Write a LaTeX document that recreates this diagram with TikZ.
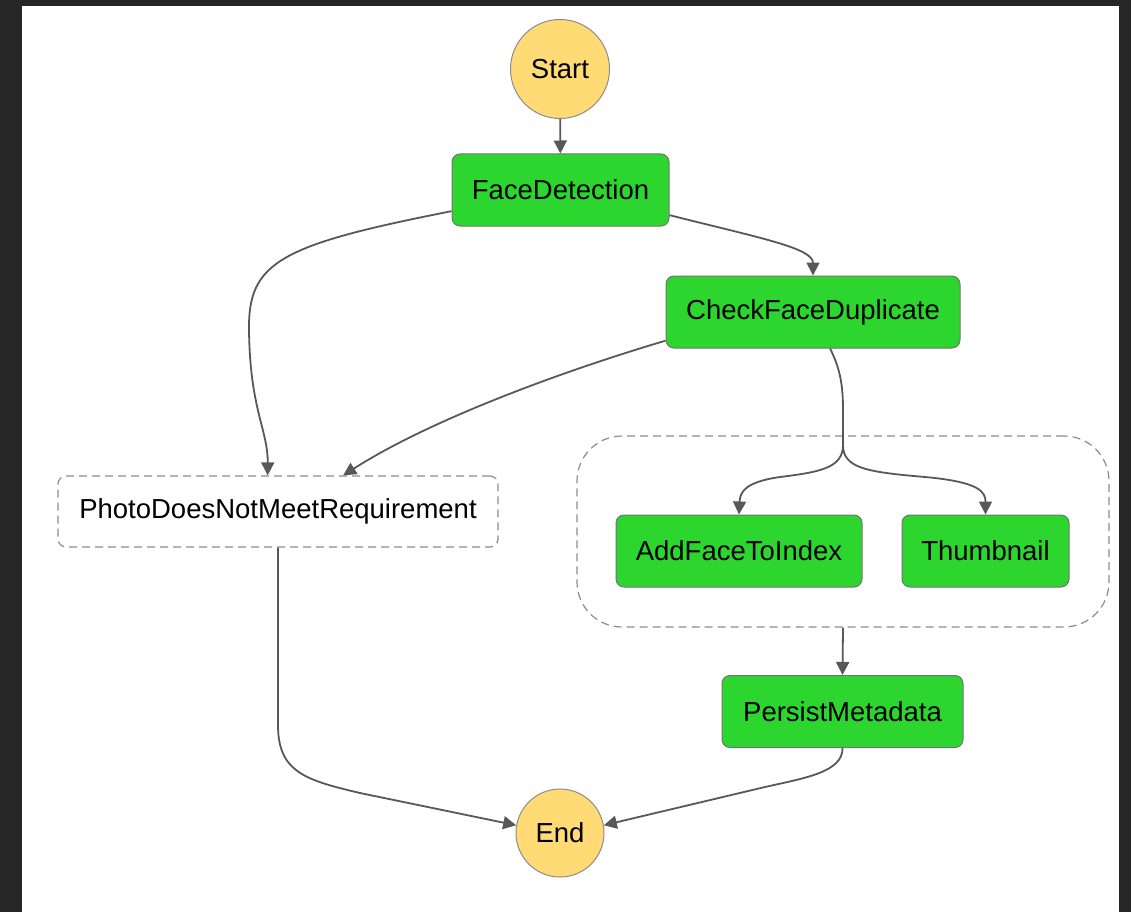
\documentclass[tikz,border=0pt]{standalone}
\usepackage{fontspec}
\setmainfont{Liberation Sans}
\usetikzlibrary{arrows.meta}

\definecolor{stategreen}{HTML}{2CD62E}
\definecolor{stateyellow}{HTML}{FFDA75}
\definecolor{edgegray}{HTML}{585858}
\definecolor{framegray}{HTML}{262626}

\tikzset{
  task/.style={draw=black!55, line width=1pt, fill=stategreen, rounded corners=8pt,
    minimum height=72pt, inner sep=0pt, font=\fontsize{27.5}{30}\selectfont},
  passstate/.style={draw=black!45, line width=1.2pt, dash pattern=on 8pt off 5pt,
    fill=white, rounded corners=8pt, minimum height=71pt, inner sep=0pt,
    font=\fontsize{27.5}{30}\selectfont},
  terminal/.style={circle, draw=black!45, line width=1pt, fill=stateyellow,
    inner sep=0pt, font=\fontsize{27.5}{30}\selectfont},
  flow/.style={draw=edgegray, line width=1.8pt, -{Triangle[length=13pt,width=13pt]}}
}

\begin{document}
\begin{tikzpicture}[x=1pt, y=-1pt]
    % Define the frame size
    \pgfmathsetmacro{\framew}{1131}
    \pgfmathsetmacro{\frameh}{912}

    % Draw the window frame
    \fill[framegray] (0, 0) rectangle (\framew, \frameh);
    \fill[white] (22, 6) rectangle (1119, \frameh);
    \useasboundingbox (0, 0) rectangle (\framew, \frameh);

    % Draw the parallel group
    \node[draw=black!45, line width=1.2pt, dash pattern=on 8pt off 5pt, rounded corners=45pt,
      minimum width=532pt, minimum height=191pt] (grp) at (843, 531.5) {};

    % Draw the states
    \node[terminal, minimum size=99pt] (start) at (560, 69) {Start};
    \node[task, minimum width=217pt] (fd) at (560.5, 190) {FaceDetection};
    \node[task, minimum width=294pt] (cfd) at (813, 312) {CheckFaceDuplicate};
    \node[passstate, minimum width=440pt] (pd) at (278, 511.5) {PhotoDoesNotMeetRequirement};
    \node[task, minimum width=246pt] (af) at (739, 551) {AddFaceToIndex};
    \node[task, minimum width=167pt] (tn) at (985.5, 551) {Thumbnail};
    \node[task, minimum width=241pt] (pm) at (842.5, 711.5) {PersistMetadata};
    \node[terminal, minimum size=88pt] (en) at (560, 833) {End};

    % Branch point of the parallel state
    \coordinate (split) at (843, 445);

    % Draw the transitions
    \draw[flow] (start) -- (fd);
    \draw[flow] (fd.191) .. controls (280, 245) and (248, 262) .. (249, 330)
      .. controls (250, 410) and (268, 430) .. (pd.106);
    \draw[flow] (fd.347) .. controls (760, 238) and (813, 248) .. (cfd.north);
    \draw[flow] (cfd.191) .. controls (560, 372) and (430, 420) .. (pd.29);
    \draw[edgegray, line width=1.8pt] (cfd.295) .. controls (840, 368) and (843, 385) .. (843, 410) -- (split);
    \draw[flow] (split) .. controls (843, 468) and (820, 472) .. (780, 477)
      .. controls (745, 482) and (740, 492) .. (af.north);
    \draw[flow] (split) .. controls (843, 468) and (866, 472) .. (925, 477)
      .. controls (980, 482) and (985.5, 492) .. (tn.north);
    \draw[flow] (grp.south) -- (pm.north);
    \draw[flow] (pd.south) -- (278, 725) .. controls (278, 772) and (305, 780) .. (360, 793) -- (en.170);
    \draw[flow] (pm.south) .. controls (843, 772) and (805, 778) .. (765, 787) -- (en.10);
\end{tikzpicture}
\end{document}
